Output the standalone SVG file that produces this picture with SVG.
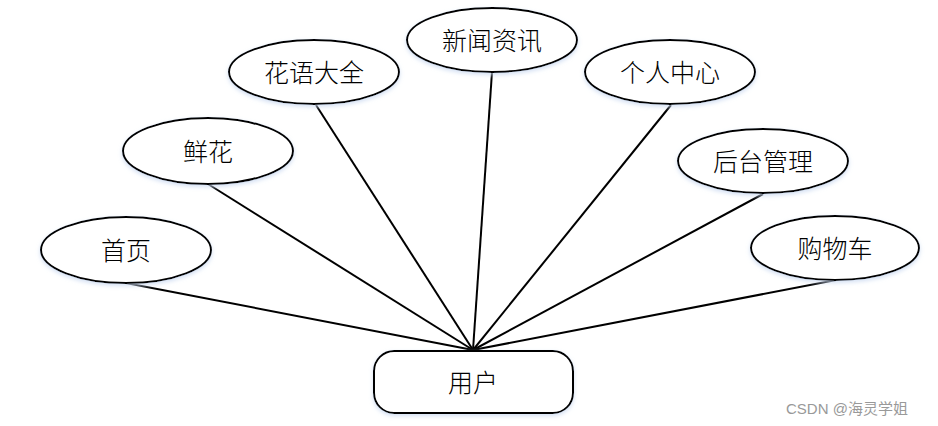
<svg xmlns="http://www.w3.org/2000/svg" width="938" height="426" viewBox="0 0 938 426">
<defs>
<filter id="sh" x="-10%" y="-20%" width="120%" height="140%">
<feDropShadow dx="0" dy="2" stdDeviation="2" flood-color="#c8d8f0" flood-opacity="0.8"/>
</filter>
</defs>
<style>
.n{fill:#fff;stroke:#000;stroke-width:2;filter:url(#sh)}
.t{font-family:"Noto Sans CJK SC",sans-serif;font-size:25px;fill:#000;text-anchor:middle;dominant-baseline:central;font-weight:300}
.c line{stroke:#000;stroke-width:2}
.w{font-family:"Liberation Sans","Noto Sans CJK SC",sans-serif;font-size:15px;fill:#999}
</style>
<rect width="938" height="426" fill="#fff"/>
<g class="c" id="connectors">
<line x1="473" y1="350" x2="126" y2="283"/>
<line x1="473" y1="350" x2="208" y2="184"/>
<line x1="473" y1="350" x2="316" y2="105"/>
<line x1="473" y1="350" x2="492" y2="72"/>
<line x1="473" y1="350" x2="671" y2="105"/>
<line x1="473" y1="350" x2="763" y2="194"/>
<line x1="473" y1="350" x2="836" y2="280"/>
</g>
<g id="n1"><ellipse class="n" cx="126" cy="250" rx="85" ry="33"/><text class="t" x="126" y="249">首页</text></g>
<g id="n2"><ellipse class="n" cx="208" cy="151" rx="85" ry="33"/><text class="t" x="208" y="150">鲜花</text></g>
<g id="n3"><ellipse class="n" cx="314" cy="72" rx="85" ry="32"/><text class="t" x="314" y="71">花语大全</text></g>
<g id="n4"><ellipse class="n" cx="492" cy="40" rx="85" ry="32"/><text class="t" x="492" y="39">新闻资讯</text></g>
<g id="n5"><ellipse class="n" cx="670" cy="72" rx="85" ry="32"/><text class="t" x="670" y="71">个人中心</text></g>
<g id="n6"><ellipse class="n" cx="763" cy="161" rx="85" ry="32"/><text class="t" x="763" y="160">后台管理</text></g>
<g id="n7"><ellipse class="n" cx="835" cy="248" rx="84" ry="32"/><text class="t" x="835" y="247">购物车</text></g>
<g id="n8"><rect class="n" x="374" y="351" width="199" height="62" rx="20"/><text class="t" x="473" y="381">用户</text></g>
<text class="w" x="786" y="414">CSDN @海灵学姐</text>
</svg>
